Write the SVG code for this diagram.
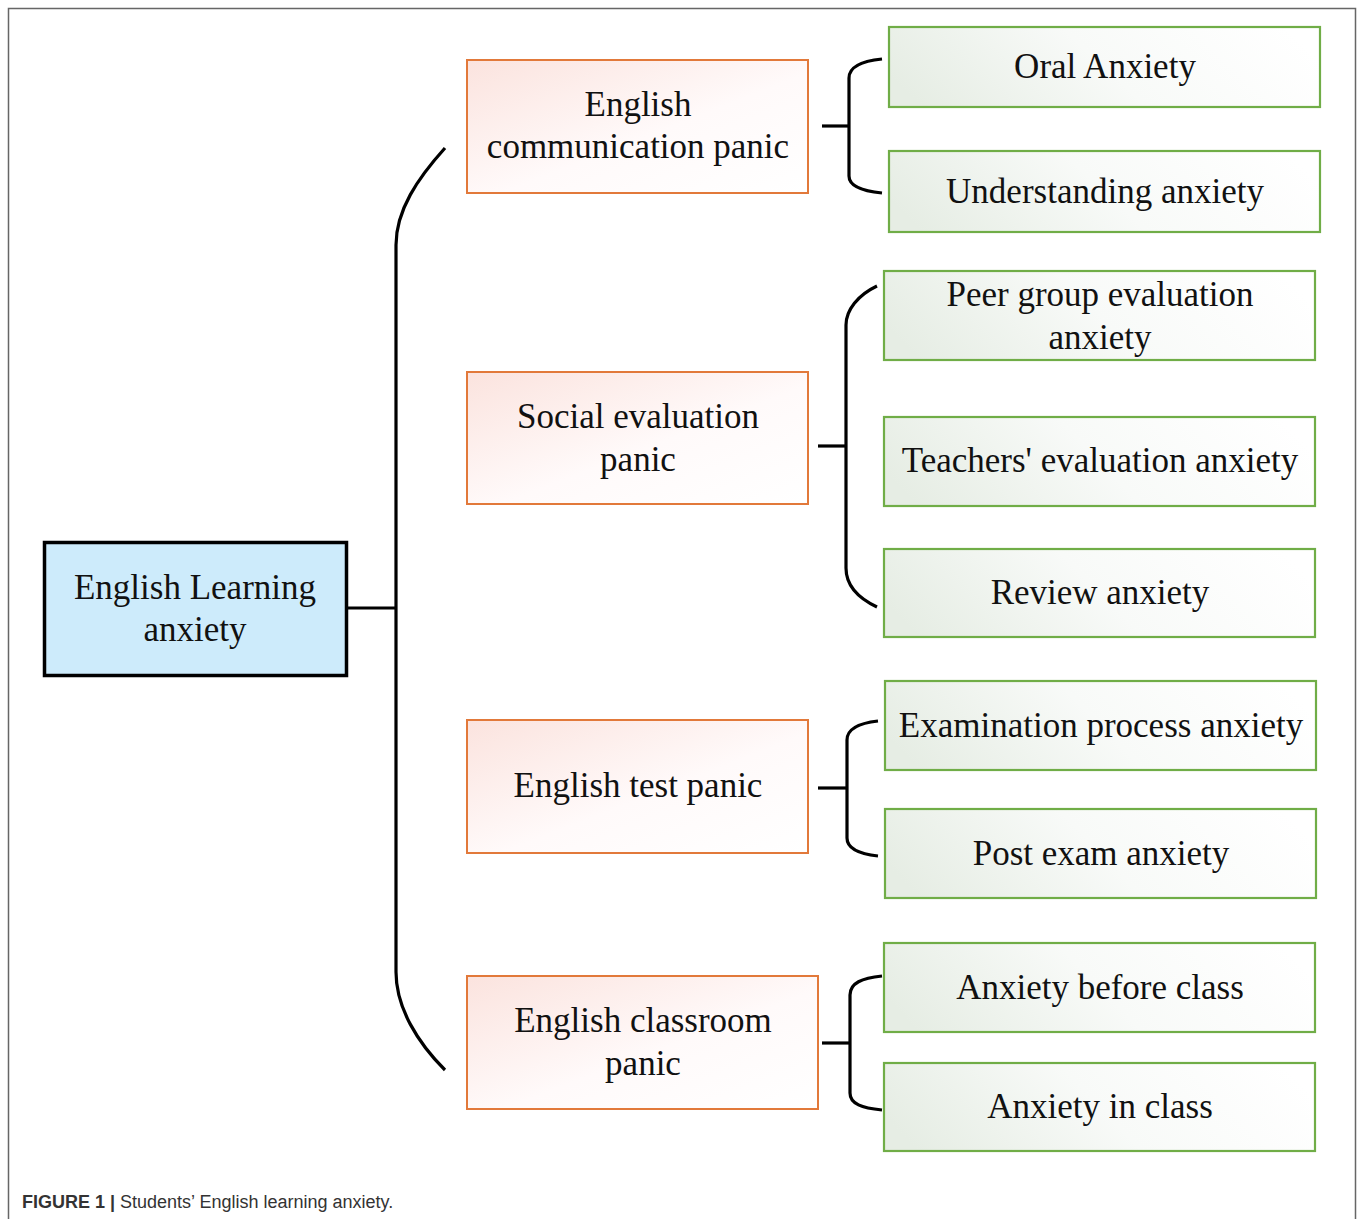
<svg xmlns="http://www.w3.org/2000/svg" width="1358" height="1219" viewBox="0 0 1358 1219">
<style>
.t{font-family:"Liberation Serif","Times New Roman",serif;font-size:35px;fill:#111;text-anchor:middle}
.o{fill:url(#og);stroke:#e2793a;stroke-width:2}
.g{fill:url(#gg);stroke:#70ad47;stroke-width:2.2}
.c{fill:none;stroke:#000;stroke-width:3.2;stroke-linecap:butt}
.cap{font-family:"Liberation Sans",Arial,sans-serif;font-size:18px;fill:#333}
</style>
<defs>
<linearGradient id="og" x1="0" y1="0" x2="1" y2="1">
<stop offset="0" stop-color="#fbe3de"/><stop offset="0.55" stop-color="#fffafa"/><stop offset="1" stop-color="#ffffff"/>
</linearGradient>
<linearGradient id="gg" x1="0" y1="0.6" x2="1" y2="0.4">
<stop offset="0" stop-color="#e6ede4"/><stop offset="0.5" stop-color="#f8faf8"/><stop offset="1" stop-color="#ffffff"/>
</linearGradient>
</defs>
<rect width="1358" height="1219" fill="#fff"/>
<path d="M8.5,1219 V8.5 H1355.5 V1219" fill="none" stroke="#666" stroke-width="1.5"/>

<g id="connectors">
<path class="c" d="M346,608 H396"/>
<path class="c" d="M445,148 C418,178 396,210 396,245 V972 C396,1008 418,1043 445,1070"/>
<path class="c" d="M822,126 H849"/>
<path class="c" d="M882,59 C862,61 849,66 849,78 V176 C849,186 862,191 882,193"/>
<path class="c" d="M818,446 H846"/>
<path class="c" d="M877,286 C858,295 846,310 846,325 V568 C846,585 858,598 877,607"/>
<path class="c" d="M818,788 H847"/>
<path class="c" d="M878,721 C860,723 847,728 847,740 V838 C847,849 860,854 878,856"/>
<path class="c" d="M822,1043 H850"/>
<path class="c" d="M882,976 C862,978 850,983 850,995 V1093 C850,1104 862,1108 882,1110"/>
</g>

<g id="root">
<rect x="44.5" y="542.5" width="302" height="133" fill="#cdebfb" stroke="#000" stroke-width="3.5"/>
<text class="t" x="195" y="599">English Learning</text>
<text class="t" x="195" y="641">anxiety</text>
</g>

<g id="comm">
<rect class="o" x="467" y="60" width="341" height="133"/>
<text class="t" x="638" y="116">English</text>
<text class="t" x="638" y="158">communication panic</text>
</g>
<g id="social">
<rect class="o" x="467" y="372" width="341" height="132"/>
<text class="t" x="638" y="428">Social evaluation</text>
<text class="t" x="638" y="471">panic</text>
</g>
<g id="test">
<rect class="o" x="467" y="720" width="341" height="133"/>
<text class="t" x="638" y="797">English test panic</text>
</g>
<g id="classroom">
<rect class="o" x="467" y="976" width="351" height="133"/>
<text class="t" x="643" y="1032">English classroom</text>
<text class="t" x="643" y="1075">panic</text>
</g>

<g id="oral">
<rect class="g" x="889" y="27" width="431" height="80"/>
<text class="t" x="1105" y="78">Oral Anxiety</text>
</g>
<g id="understanding">
<rect class="g" x="889" y="151" width="431" height="81"/>
<text class="t" x="1105" y="203">Understanding anxiety</text>
</g>
<g id="peer">
<rect class="g" x="884" y="271" width="431" height="89"/>
<text class="t" x="1100" y="306">Peer group evaluation</text>
<text class="t" x="1100" y="349">anxiety</text>
</g>
<g id="teachers">
<rect class="g" x="884" y="417" width="431" height="89"/>
<text class="t" x="1100" y="472">Teachers' evaluation anxiety</text>
</g>
<g id="review">
<rect class="g" x="884" y="549" width="431" height="88"/>
<text class="t" x="1100" y="604">Review anxiety</text>
</g>
<g id="exam">
<rect class="g" x="885" y="681" width="431" height="89"/>
<text class="t" x="1101" y="737">Examination process anxiety</text>
</g>
<g id="post">
<rect class="g" x="885" y="809" width="431" height="89"/>
<text class="t" x="1101" y="865">Post exam anxiety</text>
</g>
<g id="before">
<rect class="g" x="884" y="943" width="431" height="89"/>
<text class="t" x="1100" y="999">Anxiety before class</text>
</g>
<g id="inclass">
<rect class="g" x="884" y="1063" width="431" height="88"/>
<text class="t" x="1100" y="1118">Anxiety in class</text>
</g>

<text class="cap" x="22" y="1208"><tspan font-weight="bold">FIGURE 1 |</tspan> Students’ English learning anxiety.</text>
</svg>
